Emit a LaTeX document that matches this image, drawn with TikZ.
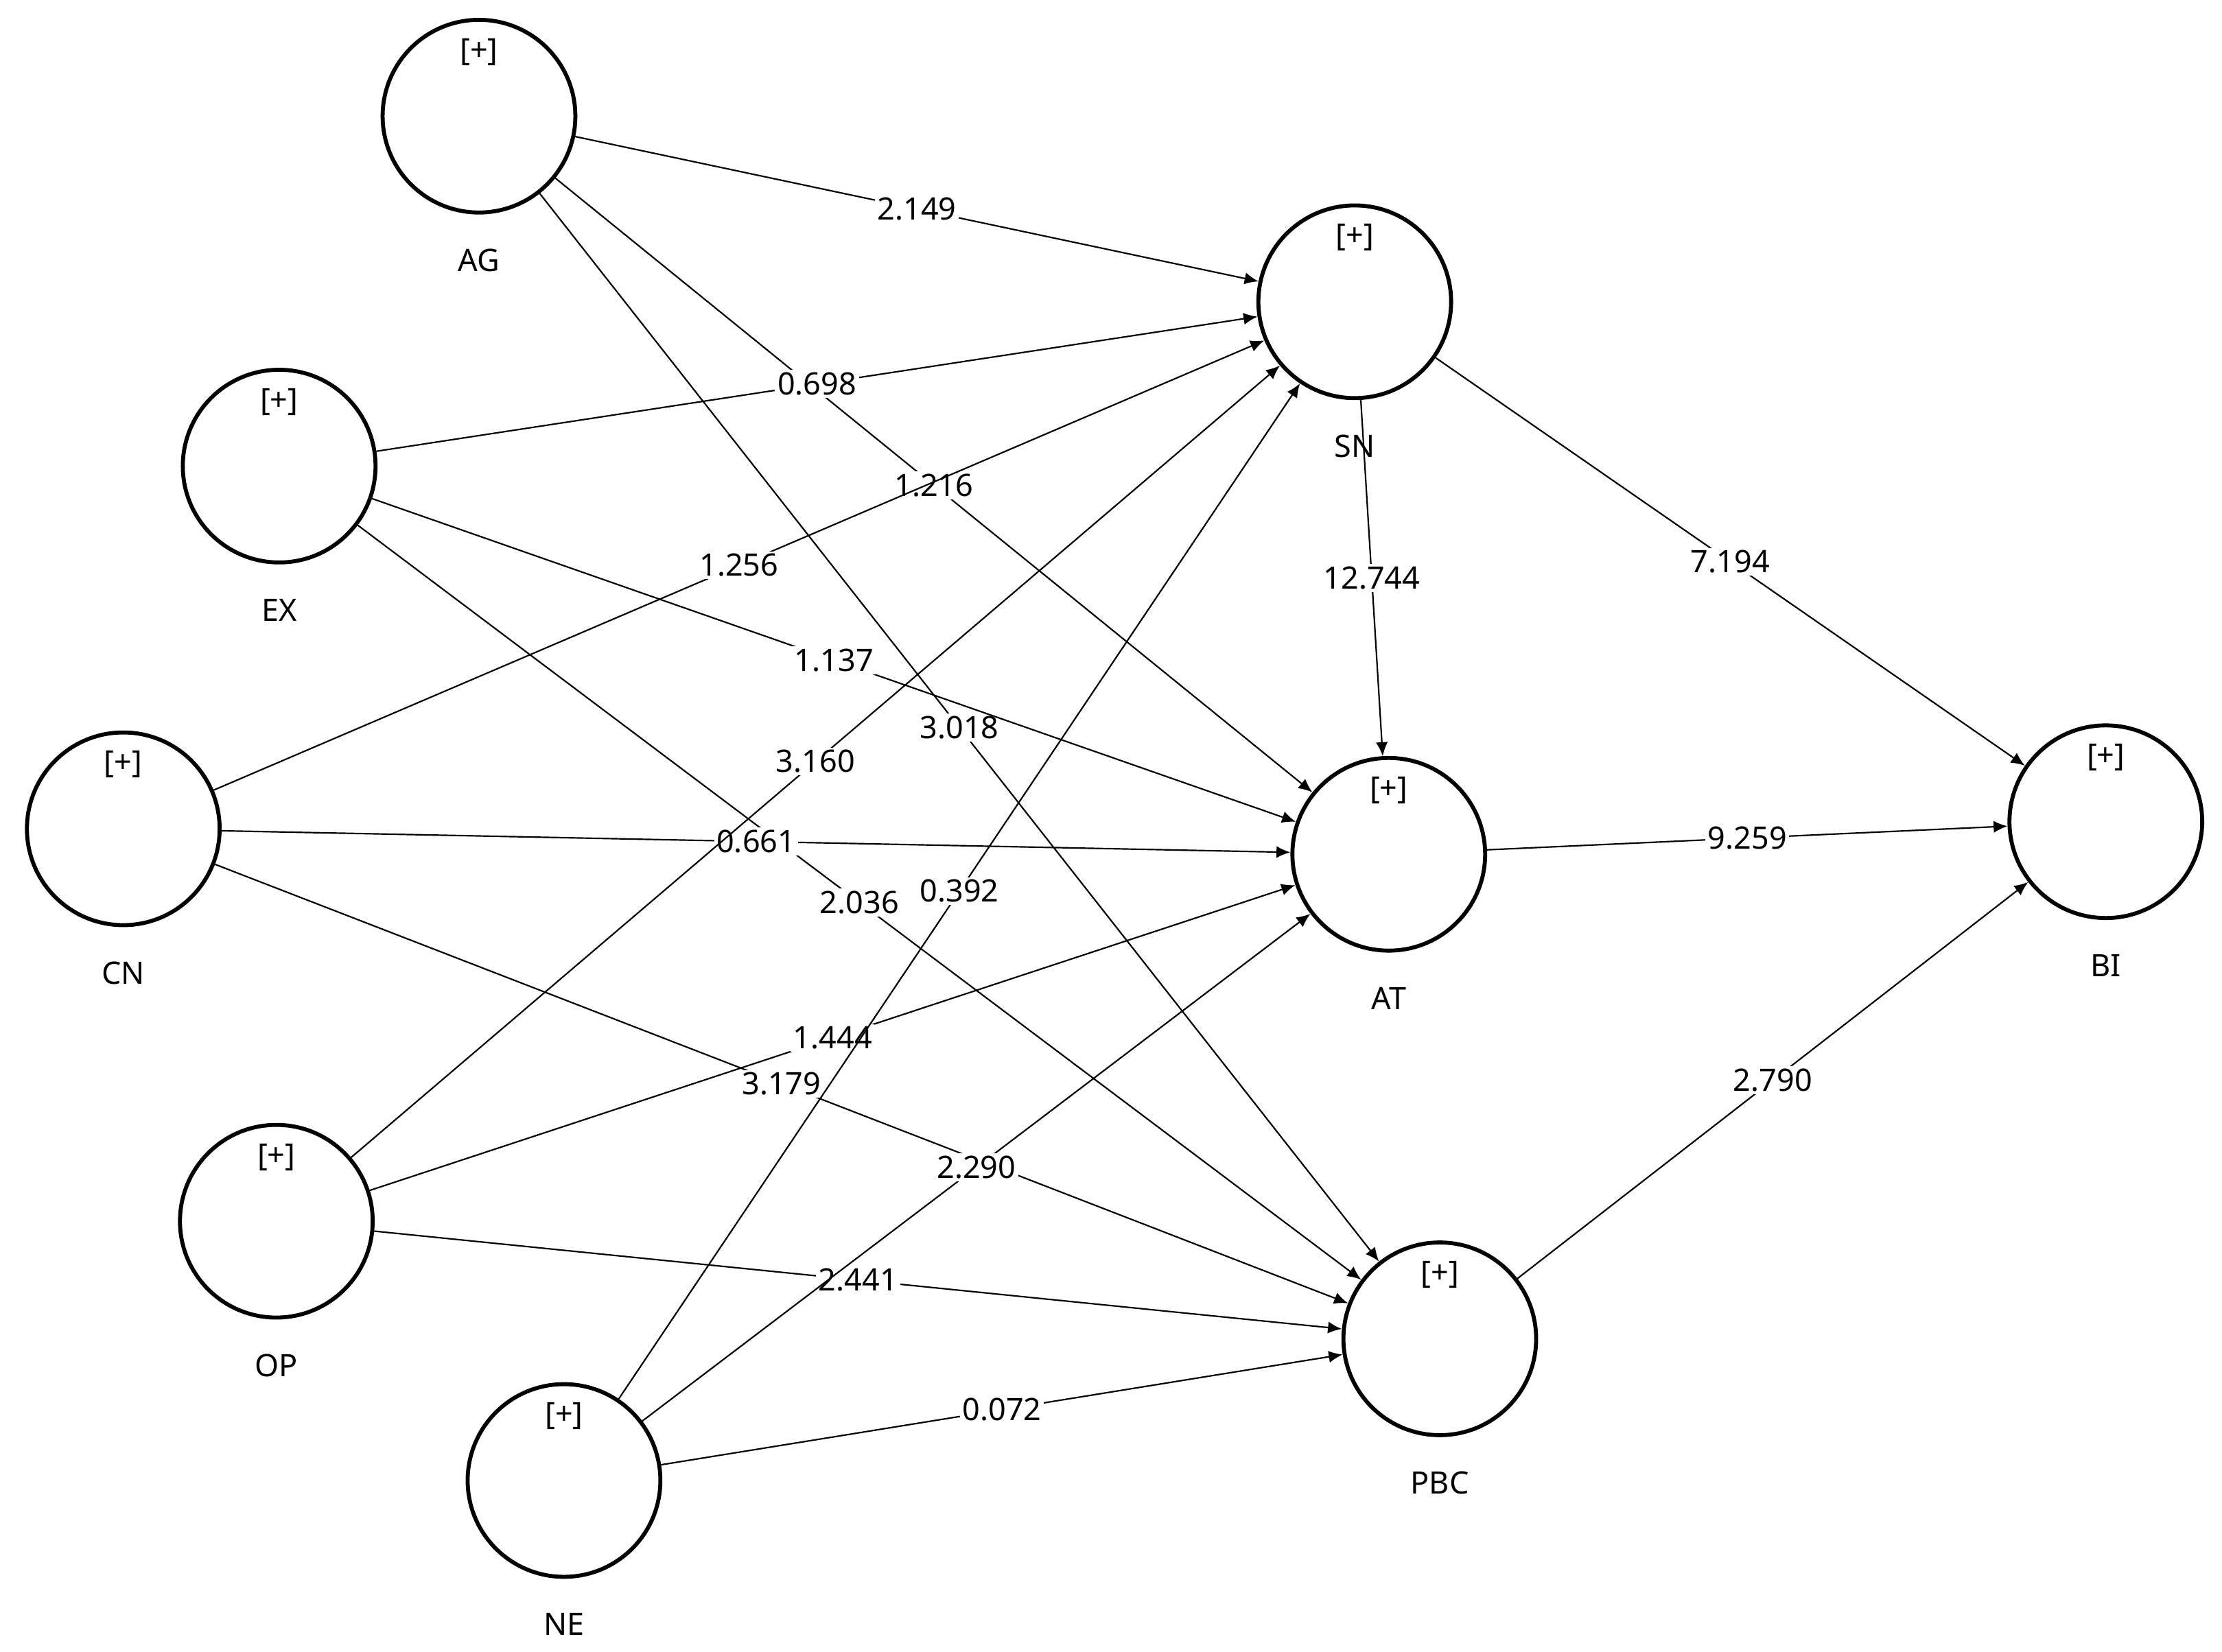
\documentclass[tikz,border=0pt]{standalone}
\usepackage{fontspec}
\setmainfont{Noto Sans}
\usetikzlibrary{arrows.meta}
\begin{document}
\begin{tikzpicture}
    [every node/.style={font=\fontsize{6.2}{7}\selectfont},
     lv/.style={circle, draw, line width=0.8pt, minimum size=1.36cm, inner sep=0pt,
       label={[label distance=-0.46cm]north:{[+]}}},
     path/.style={-{Latex[length=2.8pt,width=2.4pt]}, line width=0.3pt},
     coef/.style={fill=white, inner sep=0.5pt, midway}]
    \useasboundingbox (0,0) rectangle (15.68,-11.66);
    \node[lv, label={[label distance=0.12cm]below:AG}] (ag) at (3.38,-0.82){};
    \node[lv, label={[label distance=0.12cm]below:EX}] (ex) at (1.97,-3.29){};
    \node[lv, label={[label distance=0.12cm]below:CN}] (cn) at (0.87,-5.85){};
    \node[lv, label={[label distance=0.12cm]below:OP}] (op) at (1.95,-8.62){};
    \node[lv, label={[label distance=0.12cm]below:NE}] (ne) at (3.98,-10.45){};
    \node[lv, label={[label distance=0.12cm]below:SN}] (sn) at (9.56,-2.13){};
    \node[lv, label={[label distance=0.12cm]below:AT}] (at) at (9.80,-6.03){};
    \node[lv, label={[label distance=0.12cm]below:PBC}] (pbc) at (10.16,-9.45){};
    \node[lv, label={[label distance=0.12cm]below:BI}] (bi) at (14.86,-5.80){};
    \draw[path] (ag) to node[coef]{2.149} (sn);
    \draw[path] (ag) to node[coef]{1.216} (at);
    \draw[path] (ag) to node[coef]{3.018} (pbc);
    \draw[path] (ex) to node[coef]{0.698} (sn);
    \draw[path] (ex) to node[coef]{1.137} (at);
    \draw[path] (ex) to node[coef]{2.036} (pbc);
    \draw[path] (cn) to node[coef]{1.256} (sn);
    \draw[path] (cn) to node[coef]{0.661} (at);
    \draw[path] (cn) to node[coef]{3.179} (pbc);
    \draw[path] (op) to node[coef]{3.160} (sn);
    \draw[path] (op) to node[coef]{1.444} (at);
    \draw[path] (op) to node[coef]{2.441} (pbc);
    \draw[path] (ne) to node[coef]{0.392} (sn);
    \draw[path] (ne) to node[coef]{2.290} (at);
    \draw[path] (ne) to node[coef]{0.072} (pbc);
    \draw[path] (sn) to node[coef]{12.744} (at);
    \draw[path] (sn) to node[coef]{7.194} (bi);
    \draw[path] (at) to node[coef]{9.259} (bi);
    \draw[path] (pbc) to node[coef]{2.790} (bi);
\end{tikzpicture}
\end{document}
